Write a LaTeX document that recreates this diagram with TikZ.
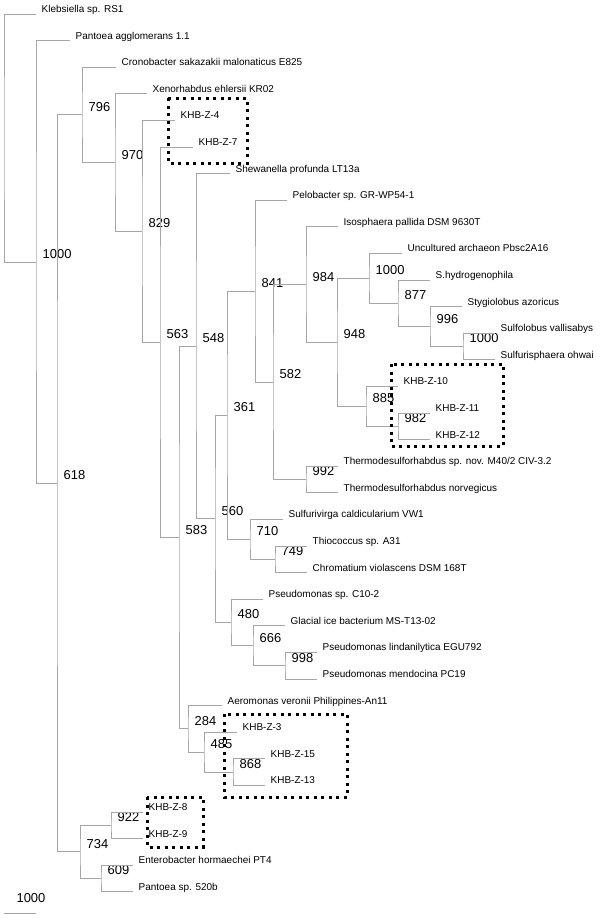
\documentclass[tikz,border=0pt]{standalone}
\usepackage{fontspec}
\setmainfont{Liberation Sans}
\tikzset{
  br/.style={draw=gray!70, line width=1bp},
  leaf/.style={anchor=base west, inner sep=0, xshift=5.5bp, yshift=1.5bp, font=\fontsize{10}{12}\selectfont},
  bs/.style={anchor=west, inner sep=0, xshift=6.5bp, yshift=8bp, font=\fontsize{13}{15}\selectfont},
  dotbox/.style={draw=black, line width=3bp, dash pattern=on 3bp off 4.5bp}
}
\begin{document}
\begin{tikzpicture}[x=1bp,y=-1bp]
\useasboundingbox (0,0) rectangle (600,918);

% leaves
\path (36,14) coordinate (t1) node[leaf] (l1) {Klebsiella sp. RS1};
\path (70,40.6) coordinate (t2) node[leaf] (l2) {Pantoea agglomerans 1.1};
\path (116,67.2) coordinate (t3) node[leaf] (l3) {Cronobacter sakazakii malonaticus E825};
\path (147,93.8) coordinate (t4) node[leaf] (l4) {Xenorhabdus ehlersii KR02};
\path (175,120.4) coordinate (t5) node[leaf] (l5) {KHB-Z-4};
\path (193,147) coordinate (t6) node[leaf] (l6) {KHB-Z-7};
\path (230,173.6) coordinate (t7) node[leaf] (l7) {Shewanella profunda LT13a};
\path (287,200.2) coordinate (t8) node[leaf] (l8) {Pelobacter sp. GR-WP54-1};
\path (338,226.8) coordinate (t9) node[leaf] (l9) {Isosphaera pallida DSM 9630T};
\path (402,253.4) coordinate (t10) node[leaf] (l10) {Uncultured archaeon Pbsc2A16};
\path (430,280) coordinate (t11) node[leaf] (l11) {S.hydrogenophila};
\path (462,306.6) coordinate (t12) node[leaf] (l12) {Stygiolobus azoricus};
\path (495,333.2) coordinate (t13) node[leaf] (l13) {Sulfolobus vallisabys};
\path (495,359.8) coordinate (t14) node[leaf] (l14) {Sulfurisphaera ohwai};
\path (398,386.4) coordinate (t15) node[leaf] (l15) {KHB-Z-10};
\path (430,413) coordinate (t16) node[leaf] (l16) {KHB-Z-11};
\path (430,439.6) coordinate (t17) node[leaf] (l17) {KHB-Z-12};
\path (338,466.2) coordinate (t18) node[leaf] (l18) {Thermodesulforhabdus sp. nov. M40/2 CIV-3.2};
\path (338,492.8) coordinate (t19) node[leaf] (l19) {Thermodesulforhabdus norvegicus};
\path (283,519.4) coordinate (t20) node[leaf] (l20) {Sulfurivirga caldicularium VW1};
\path (307,546) coordinate (t21) node[leaf] (l21) {Thiococcus sp. A31};
\path (307,572.6) coordinate (t22) node[leaf] (l22) {Chromatium violascens DSM 168T};
\path (263,599.2) coordinate (t23) node[leaf] (l23) {Pseudomonas sp. C10-2};
\path (285,625.8) coordinate (t24) node[leaf] (l24) {Glacial ice bacterium MS-T13-02};
\path (317,652.4) coordinate (t25) node[leaf] (l25) {Pseudomonas lindanilytica EGU792};
\path (317,679) coordinate (t26) node[leaf] (l26) {Pseudomonas mendocina PC19};
\path (222,705.6) coordinate (t27) node[leaf] (l27) {Aeromonas veronii Philippines-An11};
\path (237,732.2) coordinate (t28) node[leaf] (l28) {KHB-Z-3};
\path (265,758.8) coordinate (t29) node[leaf] (l29) {KHB-Z-15};
\path (265,785.4) coordinate (t30) node[leaf] (l30) {KHB-Z-13};
\path (143,812) coordinate (t31) node[leaf] (l31) {KHB-Z-8};
\path (143,838.6) coordinate (t32) node[leaf] (l32) {KHB-Z-9};
\path (133,865.2) coordinate (t33) node[leaf] (l33) {Enterobacter hormaechei PT4};
\path (133,891.8) coordinate (t34) node[leaf] (l34) {Pantoea sp. 520b};

% inner nodes with bootstrap values
\coordinate (root) at (4,138);
\path (36,262) coordinate (nA) node[bs] (bA) {1000};
\path (57,483.4) coordinate (nB) node[bs] (bB) {618};
\path (82,114.9) coordinate (nC) node[bs] (bC) {796};
\path (115,162.6) coordinate (nD) node[bs] (bD) {970};
\path (142,231.35) coordinate (nE) node[bs] (bE) {829};
\path (160,342.3) coordinate (nF) node[bs] (bF) {563};
\path (179,537.55) coordinate (nG) node[bs] (bG) {583};
\path (196,346.2) coordinate (nH) node[bs] (bH) {548};
\path (215,518.85) coordinate (nI) node[bs] (bI) {560};
\path (227,415.2) coordinate (nJ) node[bs] (bJ) {361};
\path (255,291.1) coordinate (nK) node[bs] (bK) {841};
\path (273,382.05) coordinate (nM) node[bs] (bM) {582};
\path (306,284.6) coordinate (nN) node[bs] (bN) {984};
\path (337,342.35) coordinate (nO) node[bs] (bO) {948};
\path (369,278.35) coordinate (nP) node[bs] (bP) {1000};
\path (398,303.3) coordinate (nQ) node[bs] (bQ) {877};
\path (430,326.55) coordinate (nR) node[bs] (bR) {996};
\path (463,346.5) coordinate (nS) node[bs] (bS) {1000};
\path (366,406.35) coordinate (nT) node[bs] (bT) {885};
\path (398,426.3) coordinate (nU) node[bs] (bU) {982};
\path (306,479.5) coordinate (nV) node[bs] (bV) {992};
\path (250,539.35) coordinate (nW) node[bs] (bW) {710};
\path (275,559.3) coordinate (nX) node[bs] (bX) {749};
\path (231,622.5) coordinate (nY) node[bs] (bY) {480};
\path (253,645.75) coordinate (nZ) node[bs] (bZ) {666};
\path (285,665.7) coordinate (nAA) node[bs] (bAA) {998};
\path (188,728.9) coordinate (nAB) node[bs] (bAB) {284};
\path (204,752.15) coordinate (nAC) node[bs] (bAC) {485};
\path (233,772.1) coordinate (nAD) node[bs] (bAD) {868};
\path (80,851.9) coordinate (nAE) node[bs] (bAE) {734};
\path (111,825.3) coordinate (nAF) node[bs] (bAF) {922};
\path (101,878.5) coordinate (nAG) node[bs] (bAG) {609};

% branches
\path[br] (t1) -| (root) |- (nA);
\path[br] (t2) -| (nA) |- (nB);
\path[br] (nC) -| (nB) |- (nAE);
\path[br] (t3) -| (nC) |- (nD);
\path[br] (t4) -| (nD) |- (nE);
\path[br] (t5) -| (nE) |- (nF);
\path[br] (t6) -| (nF) |- (nG);
\path[br] (nH) -| (nG) |- (nAB);
\path[br] (t7) -| (nH) |- (nI);
\path[br] (nJ) -| (nI) |- (nY);
\path[br] (nK) -| (nJ) |- (nW);
\path[br] (t8) -| (nK) |- (nM);
\path[br] (nN) -| (nM) |- (nV);
\path[br] (t9) -| (nN) |- (nO);
\path[br] (nP) -| (nO) |- (nT);
\path[br] (t10) -| (nP) |- (nQ);
\path[br] (t11) -| (nQ) |- (nR);
\path[br] (t12) -| (nR) |- (nS);
\path[br] (t13) -| (nS) |- (t14);
\path[br] (t15) -| (nT) |- (nU);
\path[br] (t16) -| (nU) |- (t17);
\path[br] (t18) -| (nV) |- (t19);
\path[br] (t20) -| (nW) |- (nX);
\path[br] (t21) -| (nX) |- (t22);
\path[br] (t23) -| (nY) |- (nZ);
\path[br] (t24) -| (nZ) |- (nAA);
\path[br] (t25) -| (nAA) |- (t26);
\path[br] (t27) -| (nAB) |- (nAC);
\path[br] (t28) -| (nAC) |- (nAD);
\path[br] (t29) -| (nAD) |- (t30);
\path[br] (nAF) -| (nAE) |- (nAG);
\path[br] (t31) -| (nAF) |- (t32);
\path[br] (t33) -| (nAG) |- (t34);

% scale bar
\coordinate (sb1) at (4,913);
\coordinate (sb2) at (36,913);
\path[br] (sb1) -- (sb2);
\node[font=\fontsize{13}{15}\selectfont, inner sep=0] (sbl) at (31,898) {1000};

% boxes round the isolates
\draw[dotbox] (168,98) rectangle (247,163);
\draw[dotbox] (391,364) rectangle (503,446);
\draw[dotbox] (224,714) rectangle (347,797);
\draw[dotbox] (147,797) rectangle (203,847);
\end{tikzpicture}
\end{document}
